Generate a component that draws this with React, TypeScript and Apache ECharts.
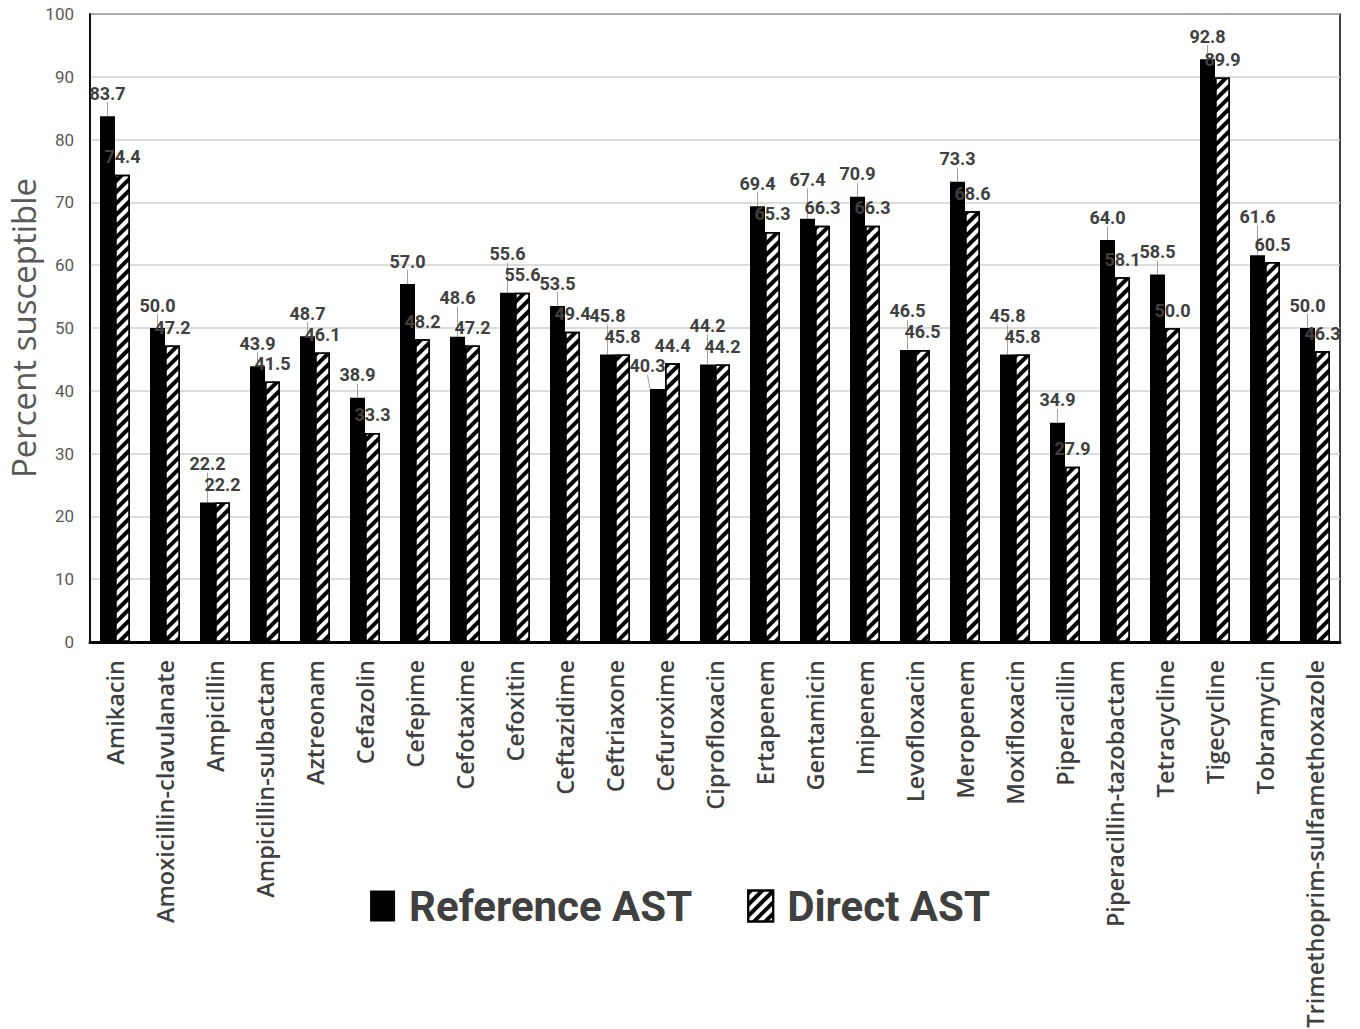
import React, { useEffect, useRef } from "react";
import * as echarts from "echarts";

const categories = [
  "Amikacin",
  "Amoxicillin-clavulanate",
  "Ampicillin",
  "Ampicillin-sulbactam",
  "Aztreonam",
  "Cefazolin",
  "Cefepime",
  "Cefotaxime",
  "Cefoxitin",
  "Ceftazidime",
  "Ceftriaxone",
  "Cefuroxime",
  "Ciprofloxacin",
  "Ertapenem",
  "Gentamicin",
  "Imipenem",
  "Levofloxacin",
  "Meropenem",
  "Moxifloxacin",
  "Piperacillin",
  "Piperacillin-tazobactam",
  "Tetracycline",
  "Tigecycline",
  "Tobramycin",
  "Trimethoprim-sulfamethoxazole",
];

const referenceAST = [
  83.7, 50.0, 22.2, 43.9, 48.7, 38.9, 57.0, 48.6, 55.6, 53.5, 45.8, 40.3, 44.2,
  69.4, 67.4, 70.9, 46.5, 73.3, 45.8, 34.9, 64.0, 58.5, 92.8, 61.6, 50.0,
];

const directAST = [
  74.4, 47.2, 22.2, 41.5, 46.1, 33.3, 48.2, 47.2, 55.6, 49.4, 45.8, 44.4, 44.2,
  65.3, 66.3, 66.3, 46.5, 68.6, 45.8, 27.9, 58.1, 50.0, 89.9, 60.5, 46.3,
];

const seriesNames = ["Reference AST", "Direct AST"];
const yTicks = { min: 0, max: 100, interval: 10 };

export default function App() {
  const ref = useRef<HTMLDivElement>(null);

  useEffect(() => {
    if (!ref.current) return;
    const chart = echarts.init(ref.current, undefined, { renderer: "svg" });

    const labelFont = {
      fontFamily: "Roboto",
      fontWeight: "bold" as const,
      fontSize: 18,
      color: "#404040",
    };

    const hatch = {
      symbol: "rect",
      symbolSize: 1,
      color: "#000",
      dashArrayX: [1, 0],
      dashArrayY: [4, 4],
      rotation: -Math.PI / 4,
    };

    chart.setOption({
      animation: false,
      backgroundColor: "#fff",
      grid: {
        left: 90,
        right: 20,
        top: 14,
        bottom: 387,
        show: true,
        borderColor: "#000",
        borderWidth: 1.5,
        containLabel: false,
        outerBoundsMode: "none",
      },
      legend: {
        top: 880,
        left: "center",
        icon: "rect",
        itemWidth: 25,
        itemHeight: 31,
        itemGap: 55,
        textStyle: {
          fontFamily: "Roboto",
          fontWeight: "bold",
          fontSize: 42,
          color: "#404040",
          padding: [0, 0, 0, 9],
        },
        data: seriesNames,
      },
      xAxis: {
        type: "category",
        data: categories,
        axisTick: { show: false },
        axisLine: { lineStyle: { color: "#000", width: 3 } },
        axisLabel: {
          rotate: 90,
          interval: 0,
          margin: 18,
          fontFamily: "Open Sans",
          fontWeight: 600,
          fontSize: 23.5,
          color: "#404040",
        },
      },
      yAxis: {
        type: "value",
        min: yTicks.min,
        max: yTicks.max,
        interval: yTicks.interval,
        name: "Percent susceptible",
        nameLocation: "middle",
        nameGap: 50,
        nameMoveOverlap: false,
        nameTextStyle: {
          fontFamily: "Open Sans",
          fontSize: 33,
          color: "#595959",
        },
        axisLine: { show: true, lineStyle: { color: "#000", width: 1.5 } },
        axisTick: { show: false },
        axisLabel: {
          margin: 16,
          fontFamily: "Roboto",
          fontSize: 17,
          color: "#595959",
        },
        splitLine: { lineStyle: { color: "#d0d0d0", width: 1.5 } },
      },
      series: [
        {
          name: seriesNames[0],
          type: "bar",
          data: referenceAST,
          barWidth: 15,
          barGap: "0%",
          itemStyle: { color: "#000" },
          label: {
            show: true,
            position: "top",
            distance: 14,
            formatter: (p: any) => Number(p.value).toFixed(1),
            ...labelFont,
          },
          labelLine: { show: true, lineStyle: { color: "#a0a0a0", width: 1 } },
          labelLayout: (p: any) => {
            const i = p.dataIndex;
            const diff = referenceAST[i] - directAST[i];
            if (Math.abs(diff) <= 1.5) {
              return { dy: -16 };
            }
            if (diff < 0) {
              return { dx: -10 };
            }
            return {};
          },
        },
        {
          name: seriesNames[1],
          type: "bar",
          data: directAST,
          barWidth: 15,
          itemStyle: {
            color: "#fff",
            borderColor: "#000",
            borderWidth: 1.5,
            decal: hatch,
          },
          label: {
            show: true,
            position: "top",
            distance: 9,
            formatter: (p: any) => Number(p.value).toFixed(1),
            ...labelFont,
          },
        },
      ],
    });

    return () => chart.dispose();
  }, []);

  return (
    <div
      ref={ref}
      style={{ position: "fixed", left: 0, top: 0, width: 1360, height: 1029 }}
    />
  );
}
